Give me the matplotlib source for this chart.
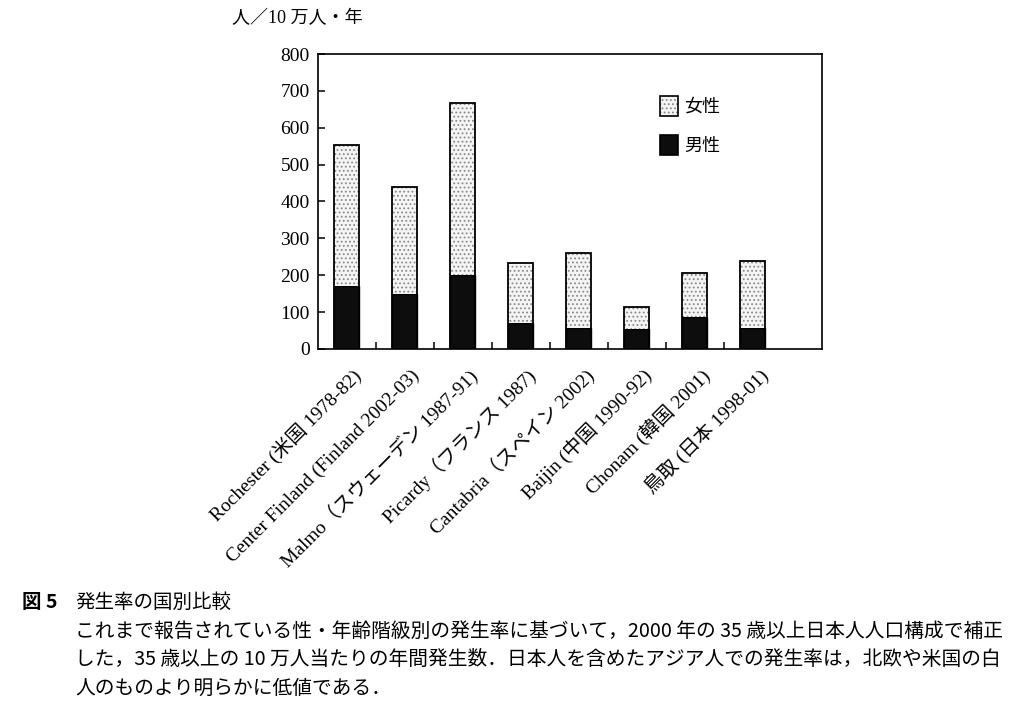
import matplotlib
matplotlib.use("Agg")
import matplotlib.pyplot as plt
import matplotlib.transforms as mtransforms
from matplotlib.patches import Rectangle
import numpy as np

plt.rcParams['font.family'] = ['Liberation Serif', 'Noto Sans CJK JP', 'DejaVu Sans']
plt.rcParams['hatch.linewidth'] = 0.8

categories = [
    "Rochester (米国 1978-82)",
    "Center Finland (Finland 2002-03)",
    "Malmo（スウェーデン 1987-91)",
    "Picardy（フランス 1987)",
    "Cantabria（スペイン 2002)",
    "Baijin (中国 1990-92)",
    "Chonam (韓国 2001)",
    "鳥取 (日本 1998-01)",
]
male = [172, 150, 200, 70, 57, 55, 88, 58]
total = [552, 440, 668, 234, 261, 113, 207, 239]
female = [t - m for t, m in zip(total, male)]
yticks = [0, 100, 200, 300, 400, 500, 600, 700, 800]

fig = plt.figure(figsize=(10.18, 7.10), dpi=100)
ax = fig.add_axes([0.3124, 0.5085, 0.4951, 0.4154])

x = np.arange(len(categories))
w = 0.43
ax.bar(x, male, width=w, color='#0d0d0d', edgecolor='black', linewidth=1.0, zorder=2)
ax.bar(x, female, width=w, bottom=male, color='#f4f4f4', edgecolor='#8a8a8a',
       hatch='....', linewidth=0, zorder=2)
ax.bar(x, total, width=w, fill=False, edgecolor='black', linewidth=1.3, zorder=3)

ax.set_xlim(-0.49, 8.19)
ax.set_ylim(0, 800)
ax.set_yticks(yticks)
ax.set_yticklabels([str(v) for v in yticks], fontsize=14, family='Liberation Serif')
ax.tick_params(axis='y', direction='in', length=5, width=1.1, pad=6)

ax.set_xticks(x)
ax.set_xticklabels(categories, rotation=45, ha='right', va='center',
                   rotation_mode='anchor', fontsize=14)
ax.tick_params(axis='x', which='major', length=0, pad=17)
offset = mtransforms.ScaledTranslation(12 / 100, 0, fig.dpi_scale_trans)
for lab in ax.get_xticklabels():
    lab.set_transform(lab.get_transform() + offset)
ax.set_xticks(x[:-1] + 0.5, minor=True)
ax.tick_params(axis='x', which='minor', direction='in', length=5, width=1.1)

for s in ax.spines.values():
    s.set_linewidth(1.2)

# legend
ax.add_patch(Rectangle((0.679, 0.790), 0.036, 0.067, transform=ax.transAxes,
                       facecolor='#f4f4f4', edgecolor='#8a8a8a', hatch='....',
                       linewidth=0, zorder=4))
ax.add_patch(Rectangle((0.679, 0.790), 0.036, 0.067, transform=ax.transAxes,
                       fill=False, edgecolor='black', linewidth=1.2, zorder=5))
ax.add_patch(Rectangle((0.679, 0.657), 0.036, 0.067, transform=ax.transAxes,
                       facecolor='#0d0d0d', edgecolor='black', linewidth=1.2, zorder=4))
ax.text(0.727, 0.823, "女性", transform=ax.transAxes, fontsize=13,
        family='Noto Sans CJK JP', va='center', ha='left')
ax.text(0.727, 0.690, "男性", transform=ax.transAxes, fontsize=13,
        family='Noto Sans CJK JP', va='center', ha='left')

fig.text(232 / 1018, 1 - 19 / 710, "人／10 万人・年", fontsize=13,
         family=['Liberation Serif', 'Noto Sans CJK JP'], va='center', ha='left')

cap = ['Noto Sans CJK JP', 'DejaVu Sans']
fig.text(22 / 1018, 1 - 602 / 710, "図 5", fontsize=14, family=cap,
         fontweight='bold', va='center', ha='left')
fig.text(75 / 1018, 1 - 602 / 710, "発生率の国別比較", fontsize=14, family=cap,
         va='center', ha='left')
lines = [
    "これまで報告されている性・年齢階級別の発生率に基づいて，2000 年の 35 歳以上日本人人口構成で補正",
    "した，35 歳以上の 10 万人当たりの年間発生数．日本人を含めたアジア人での発生率は，北欧や米国の白",
    "人のものより明らかに低値である．",
]
for i, ln in enumerate(lines):
    fig.text(75 / 1018, 1 - (631 + 28.5 * i) / 710, ln, fontsize=14.2, family=cap,
             va='center', ha='left')

fig.savefig("out.png", dpi=100)
